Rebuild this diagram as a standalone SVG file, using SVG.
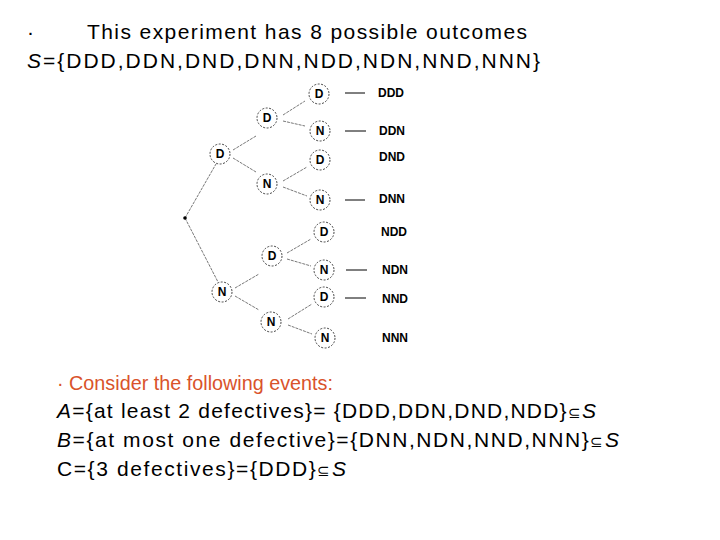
<svg xmlns="http://www.w3.org/2000/svg" width="720" height="540" viewBox="0 0 720 540">
<style>
.t{font-family:"Liberation Sans",Arial,sans-serif;font-size:21px;fill:#000}
.n circle{fill:#fff;stroke:#444;stroke-width:1;stroke-dasharray:2 1.5}
.n text{font-family:"Liberation Sans",Arial,sans-serif;font-size:12px;font-weight:bold;text-anchor:middle;fill:#000}
.l{font-family:"Liberation Sans",Arial,sans-serif;font-size:12px;font-weight:bold;fill:#000}
#edges line{stroke:#555;stroke-width:0.8;stroke-dasharray:3 1}
#dash line{stroke:#000;stroke-width:1}
.sub{font-size:15px}
</style>
<rect width="720" height="540" fill="#fff"/>
<text class="t" x="27" y="39">·</text>
<text class="t" x="87" y="39" textLength="440" lengthAdjust="spacing">This experiment has 8 possible outcomes</text>
<text class="t" x="27" y="68" textLength="513" lengthAdjust="spacing"><tspan font-style="italic">S</tspan>={DDD,DDN,DND,DNN,NDD,NDN,NND,NNN}</text>
<g id="edges">
<line x1="185" y1="218" x2="216" y2="164"/>
<line x1="185" y1="218" x2="218" y2="282"/>
<line x1="233" y1="150" x2="256" y2="136"/>
<line x1="233" y1="158" x2="256" y2="172"/>
<line x1="235" y1="288" x2="259" y2="274"/>
<line x1="235" y1="296" x2="259" y2="310"/>
<line x1="283" y1="115" x2="305" y2="101"/>
<line x1="283" y1="121" x2="305" y2="126"/>
<line x1="283" y1="181" x2="307" y2="167"/>
<line x1="283" y1="187" x2="307" y2="196"/>
<line x1="287" y1="253" x2="311" y2="239"/>
<line x1="287" y1="259" x2="311" y2="266"/>
<line x1="288" y1="319" x2="312" y2="304"/>
<line x1="288" y1="325" x2="312" y2="334"/>
</g>
<circle cx="185" cy="218" r="1.8" fill="#000"/>
<g id="dash">
<line x1="345" y1="93" x2="365" y2="93"/>
<line x1="345" y1="131" x2="366" y2="131"/>
<line x1="345" y1="200" x2="365" y2="200"/>
<line x1="346" y1="270" x2="367" y2="270"/>
<line x1="345" y1="298" x2="366" y2="298"/>
</g>
<g id="n1" class="n"><circle cx="220" cy="154" r="10"/><text x="220" y="158">D</text></g>
<g id="n2" class="n"><circle cx="222" cy="292" r="10"/><text x="222" y="296">N</text></g>
<g id="n3" class="n"><circle cx="267" cy="118" r="10"/><text x="267" y="122">D</text></g>
<g id="n4" class="n"><circle cx="267" cy="184" r="10"/><text x="267" y="188">N</text></g>
<g id="n5" class="n"><circle cx="272" cy="256" r="10"/><text x="272" y="260">D</text></g>
<g id="n6" class="n"><circle cx="271" cy="322" r="10"/><text x="271" y="326">N</text></g>
<g id="n7" class="n"><circle cx="319" cy="94" r="10"/><text x="319" y="98">D</text></g>
<g id="n8" class="n"><circle cx="320" cy="131" r="10"/><text x="320" y="135">N</text></g>
<g id="n9" class="n"><circle cx="320" cy="160" r="10"/><text x="320" y="164">D</text></g>
<g id="n10" class="n"><circle cx="320" cy="200" r="10"/><text x="320" y="204">N</text></g>
<g id="n11" class="n"><circle cx="324" cy="232" r="10"/><text x="324" y="236">D</text></g>
<g id="n12" class="n"><circle cx="324" cy="270" r="10"/><text x="324" y="274">N</text></g>
<g id="n13" class="n"><circle cx="324" cy="297" r="10"/><text x="324" y="301">D</text></g>
<g id="n14" class="n"><circle cx="325" cy="338" r="10"/><text x="325" y="342">N</text></g>
<text class="l" x="378" y="97">DDD</text>
<text class="l" x="379" y="135">DDN</text>
<text class="l" x="379" y="161">DND</text>
<text class="l" x="379" y="203">DNN</text>
<text class="l" x="381" y="236">NDD</text>
<text class="l" x="382" y="274">NDN</text>
<text class="l" x="382" y="303">NND</text>
<text class="l" x="382" y="342">NNN</text>
<text class="t" x="57" y="390" textLength="276" lengthAdjust="spacingAndGlyphs" style="fill:#d9532b">· Consider the following events:</text>
<text class="t" x="57" y="418" textLength="539" lengthAdjust="spacing"><tspan font-style="italic">A</tspan>={at least 2 defectives}= {DDD,DDN,DND,NDD}<tspan class="sub">⊆</tspan><tspan font-style="italic">S</tspan></text>
<text class="t" x="57" y="447" textLength="562" lengthAdjust="spacing"><tspan font-style="italic">B</tspan>={at most one defective}={DNN,NDN,NND,NNN}<tspan class="sub">⊆</tspan><tspan font-style="italic">S</tspan></text>
<text class="t" x="57" y="476" textLength="289" lengthAdjust="spacing">C={3 defectives}={DDD}<tspan class="sub">⊆</tspan><tspan font-style="italic">S</tspan></text>
</svg>
